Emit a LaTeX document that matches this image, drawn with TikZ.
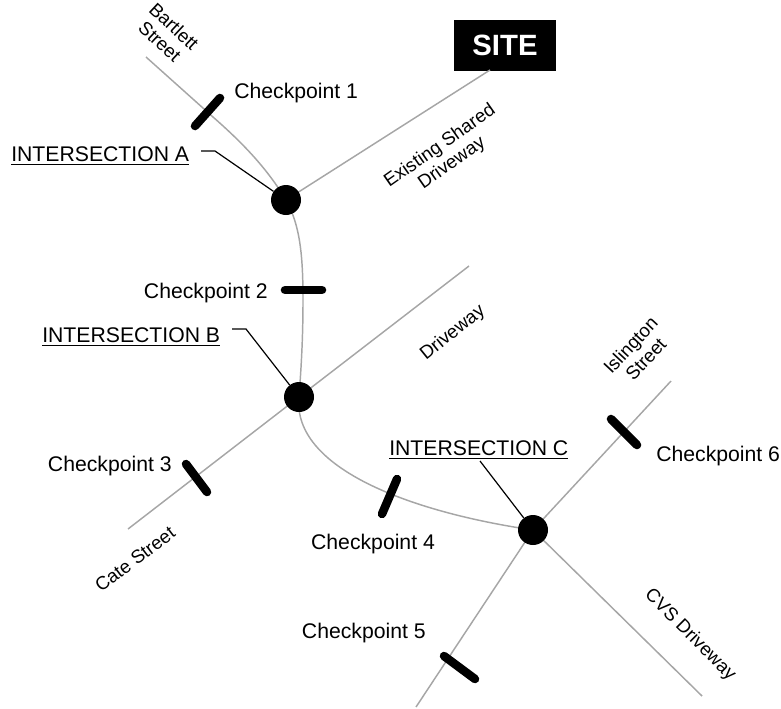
\documentclass[tikz,border=0pt]{standalone}
\usepackage{fontspec}
\setmainfont{Liberation Sans}
\begin{document}
\begin{tikzpicture}[x=0.75pt,y=-0.75pt,
  road/.style={draw=black!35,line width=1.1pt},
  lead/.style={draw=black,line width=0.9pt},
  check/.style={draw=black,line width=6.4pt,line cap=round},
  dot/.style={circle,fill=black,minimum size=22.5pt,inner sep=0pt},
  lab/.style={font=\fontsize{15.9pt}{17pt}\selectfont,inner sep=0pt,align=center},
  rlab/.style={font=\fontsize{14pt}{15.6pt}\selectfont,inner sep=0pt,align=center}]
\useasboundingbox (0,0) rectangle (781,708);
\coordinate (Ac) at (286,200);
\coordinate (Bc) at (299,397);
\coordinate (Cc) at (533,530);
\node[fill=black,minimum width=76.5pt,minimum height=38.25pt,inner sep=0pt,text=white,font=\bfseries\fontsize{22pt}{24pt}\selectfont] (site) at (505,45) {SITE};
\coordinate (bart) at (146,57);
\coordinate (siteend) at (490,70);
\coordinate (dwend) at (469,266);
\coordinate (cate) at (128,529);
\coordinate (isl) at (671,381);
\coordinate (cvs) at (702,696);
\coordinate (five) at (416,707);
\draw[road] (bart) -- (213,117) .. controls (245,145) and (268,170) .. (Ac);
\draw[road] (Ac) .. controls (300,225) and (303,255) .. (303,300) .. controls (303,340) and (301,370) .. (Bc);
\draw[road] (Ac) -- (siteend);
\draw[road] (Bc) -- (dwend);
\draw[road] (Bc) -- (cate);
\draw[road] (Bc) .. controls (292,468) and (410,512) .. (Cc);
\draw[road] (Cc) -- (isl);
\draw[road] (Cc) -- (cvs);
\draw[road] (Cc) -- (five);
\node[dot] (A) at (Ac) {};
\node[dot] (B) at (Bc) {};
\node[dot] (C) at (Cc) {};
\coordinate (c1a) at (195,126); \coordinate (c1b) at (220,98);
\coordinate (c2a) at (285,290); \coordinate (c2b) at (322,290);
\coordinate (c3a) at (186,464); \coordinate (c3b) at (207,492);
\coordinate (c4a) at (382,514); \coordinate (c4b) at (397,479);
\coordinate (c5a) at (444,656); \coordinate (c5b) at (475,679);
\coordinate (c6a) at (611,419); \coordinate (c6b) at (637,445);
\foreach \n in {1,...,6} \draw[check] (c\n a) -- (c\n b);
\node[lab,anchor=west] (l1) at (234,93) {Checkpoint 1};
\node[lab,anchor=east] (l2) at (268,293) {Checkpoint 2};
\node[lab,anchor=east] (l3) at (172,466) {Checkpoint 3};
\node[lab,anchor=center] (l4) at (373,544) {Checkpoint 4};
\node[lab,anchor=east] (l5) at (426,633) {Checkpoint 5};
\node[lab,anchor=west] (l6) at (656,456) {Checkpoint 6};
\node[lab,anchor=west] (ia) at (11,156) {\underline{INTERSECTION A}};
\node[lab,anchor=west] (ib) at (42,337) {\underline{INTERSECTION B}};
\node[lab,anchor=west] (ic) at (389,450) {\underline{INTERSECTION C}};
\coordinate (ja) at (215,151);
\coordinate (jb) at (246,329);
\coordinate (jas) at (201,151);
\coordinate (jbs) at (232,329);
\coordinate (jcs) at (480,461);
\draw[lead] (jas) -- (ja) -- (A);
\draw[lead] (jbs) -- (jb) -- (B);
\draw[lead] (jcs) -- (C);
\node[rlab,rotate=-43] (t1) at (167,34) {Bartlett\\Street};
\node[rlab,rotate=35] (t2) at (446,155) {Existing Shared\\Driveway};
\node[rlab,rotate=39] (t3) at (453,333) {Driveway};
\node[rlab,rotate=47] (t4) at (638,352) {Islington\\Street};
\node[rlab,rotate=37] (t5) at (135,559) {Cate Street};
\node[rlab,rotate=-45] (t6) at (690,635) {CVS Driveway};
\end{tikzpicture}
\end{document}
